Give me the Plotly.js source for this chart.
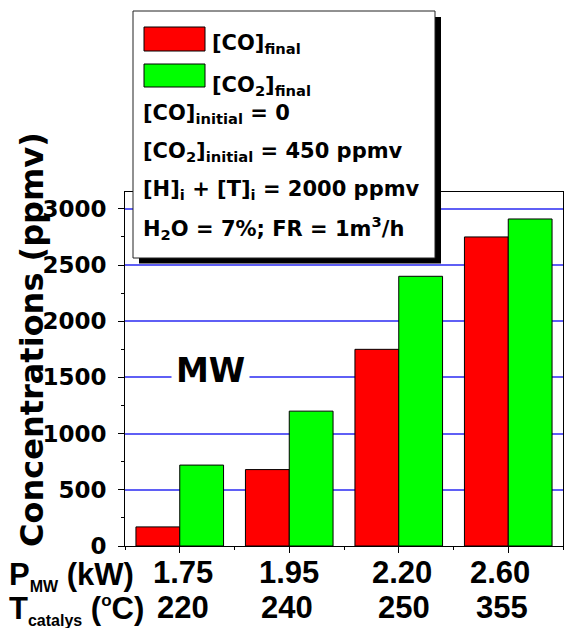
<!DOCTYPE html>
<html>
<head>
<meta charset="utf-8">
<script src="https://cdn.plot.ly/plotly-3.0.1.min.js"></script>
<style>html,body{margin:0;padding:0;background:#fff;}#chart{width:564px;height:628px;}</style>
</head>
<body>
<div id="chart"></div>
<script>
// ---- data ----
const pMW = ['1.75', '1.95', '2.20', '2.60'];
const tCatalys = ['220', '240', '250', '355'];
const coFinal = [170, 680, 1750, 2750];
const co2Final = [720, 1200, 2400, 2910];
const seriesNames = ['[CO]<sub>final</sub>', '[CO<sub>2</sub>]<sub>final</sub>'];
const conditions = [
  '[CO]<sub>initial</sub> = 0',
  '[CO<sub>2</sub>]<sub>initial</sub> = 450 ppmv',
  '[H]<sub>i</sub> + [T]<sub>i</sub> = 2000 ppmv',
  'H<sub>2</sub>O = 7%; FR = 1m<sup>3</sup>/h'
];
const rowLabels = [
  'P<sub><span style="font-size:16px">MW</span></sub> (kW)',
  'T<sub><span style="font-size:16px">catalys</span></sub> (<sup><span style="font-size:17px">o</span></sup>C)'
];
const yTitle = 'Concentrations (ppmv)';
const methodLabel = 'MW';

// ---- layout helpers (pixel -> paper) ----
const L = 125, R = 563, T = 192, B = 546;
const px = p => (p - L) / (R - L);
const py = p => (B - p) / (B - T);

const xIdx = pMW.map((_, i) => i);
const colors = ['#ff0000', '#00ff00'];

const traces = [
  {type: 'bar', x: xIdx, y: coFinal, name: 'CO final',
   marker: {color: colors[0], line: {color: '#000', width: 1}}, showlegend: false, hoverinfo: 'none'},
  {type: 'bar', x: xIdx, y: co2Final, name: 'CO2 final',
   marker: {color: colors[1], line: {color: '#000', width: 1}}, showlegend: false, hoverinfo: 'none'}
];

const boldDV = (size) => ({family: 'DejaVu Sans', size: size, color: '#000', weight: 'bold'});
const boldLS = (size) => ({family: 'Liberation Sans Narrow, Liberation Sans, Arial', size: size, color: '#000', weight: 'bold'});

const shapes = [
  // legend shadow + box
  {type: 'rect', xref: 'paper', yref: 'paper', x0: px(139), x1: px(441), y0: py(263.5), y1: py(17),
   fillcolor: '#000', line: {width: 0}},
  {type: 'rect', xref: 'paper', yref: 'paper', x0: px(133), x1: px(435), y0: py(258), y1: py(11),
   fillcolor: '#fff', line: {color: '#222', width: 1}},
  // swatches
  {type: 'rect', xref: 'paper', yref: 'paper', x0: px(144), x1: px(205), y0: py(51), y1: py(27),
   fillcolor: colors[0], line: {color: '#000', width: 1}},
  {type: 'rect', xref: 'paper', yref: 'paper', x0: px(144), x1: px(205), y0: py(87), y1: py(64),
   fillcolor: colors[1], line: {color: '#000', width: 1}}
];

const annotations = [];
// legend series names
const nameY = [44, 86];
seriesNames.forEach((s, i) => annotations.push({
  text: s, xref: 'paper', yref: 'paper', x: px(211), y: py(nameY[i]), xanchor: 'left', yanchor: 'middle',
  showarrow: false, font: boldDV(21), borderpad: 0
}));
const condY = [114, 152, 190, 228];
conditions.forEach((s, i) => annotations.push({
  text: s, xref: 'paper', yref: 'paper', x: px(142), y: py(condY[i]), xanchor: 'left', yanchor: 'middle',
  showarrow: false, font: boldDV(21), borderpad: 0
}));
// MW label
annotations.push({text: methodLabel, xref: 'paper', yref: 'paper', x: px(210), y: py(370),
  xanchor: 'center', yanchor: 'middle', showarrow: false, font: boldDV(33), bgcolor: '#fff', borderpad: 4});
// y title
annotations.push({text: yTitle, xref: 'paper', yref: 'paper', x: px(32), y: py(340), textangle: -90,
  xanchor: 'center', yanchor: 'middle', showarrow: false, font: boldDV(32), borderpad: 0});
// x rows
const row1Shift = [3, 0, 3, -8];
const row2Shift = [3, -2, 5, -6];
pMW.forEach((v, i) => annotations.push({text: v, xref: 'x', yref: 'paper', x: i, xshift: row1Shift[i],
  y: py(572), xanchor: 'center', yanchor: 'middle', showarrow: false, font: boldLS(31), borderpad: 0}));
tCatalys.forEach((v, i) => annotations.push({text: v, xref: 'x', yref: 'paper', x: i, xshift: row2Shift[i],
  y: py(607), xanchor: 'center', yanchor: 'middle', showarrow: false, font: boldLS(31), borderpad: 0}));
annotations.push({text: rowLabels[0], xref: 'paper', yref: 'paper', x: px(8), y: py(576),
  xanchor: 'left', yanchor: 'middle', showarrow: false, font: boldLS(31), borderpad: 0});
annotations.push({text: rowLabels[1], xref: 'paper', yref: 'paper', x: px(8), y: py(610),
  xanchor: 'left', yanchor: 'middle', showarrow: false, font: boldLS(31), borderpad: 0});

const layout = {
  width: 564, height: 628,
  margin: {l: L, r: 564 - R, t: T, b: 628 - B, pad: 0},
  paper_bgcolor: '#fff', plot_bgcolor: '#fff',
  barmode: 'group', bargap: 0.2, bargroupgap: 0,
  showlegend: false,
  xaxis: {
    range: [-0.5, 3.5], tickmode: 'linear', tick0: 0, dtick: 1,
    showticklabels: false, showgrid: false, zeroline: false,
    showline: true, linecolor: '#000', linewidth: 1, mirror: true,
    ticks: 'outside', ticklen: 6, tickwidth: 1, tickcolor: '#000',
    minor: {tick0: 0.5, dtick: 0.5, ticks: 'outside', ticklen: 3, tickcolor: '#000', showgrid: false}
  },
  yaxis: {
    range: [0, 3150], tickmode: 'linear', tick0: 0, dtick: 500,
    showgrid: true, gridcolor: 'rgb(95,95,245)', gridwidth: 2, zeroline: false,
    showline: true, linecolor: '#000', linewidth: 1, mirror: true,
    ticks: 'outside', ticklen: 6, tickwidth: 1, tickcolor: '#000', ticklabelstandoff: 7,
    tickfont: boldDV(23),
    minor: {dtick: 250, ticks: 'outside', ticklen: 3, tickcolor: '#000', showgrid: false}
  },
  shapes: shapes,
  annotations: annotations
};

Plotly.newPlot('chart', traces, layout, {displayModeBar: false});
</script>
</body>
</html>
